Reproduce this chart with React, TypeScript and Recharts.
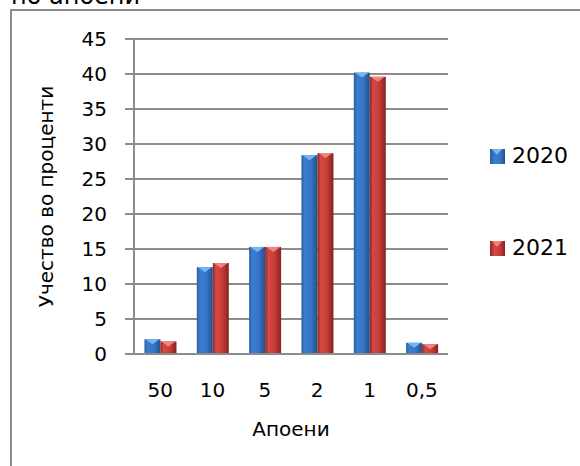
import React from "react"
import { Bar, BarChart, CartesianGrid, Legend, XAxis, YAxis } from "recharts"

const categories = ["50", "10", "5", "2", "1", "0,5"]
const values2020 = [2.1, 12.4, 15.3, 28.4, 40.2, 1.6]
const values2021 = [1.8, 13.0, 15.3, 28.7, 39.6, 1.4]
const yTicks = [0, 5, 10, 15, 20, 25, 30, 35, 40, 45]
const seriesNames = ["2020", "2021"]

const data = categories.map((c, i) => ({ name: c, a: values2020[i], b: values2021[i] }))

const FONT = "'DejaVu Sans', Tahoma, sans-serif"
const GRID = "#8c8c8c"

const palette: Record<string, { grad: string; cap: string }> = {
  a: { grad: "g-blue", cap: "#76b4f2" },
  b: { grad: "g-red", cap: "#f0847a" },
}

function CylBar(props: any) {
  const { x, y, width, height, dataKey } = props
  if (!height || height <= 0) return null
  const p = palette[dataKey] ?? palette.a
  const capH = Math.min(5, height)
  return (
    <g>
      <rect x={x} y={y} width={width} height={height} fill={`url(#${p.grad})`} />
      <polygon
        points={`${x + 1},${y} ${x + width - 1},${y} ${x + width / 2},${y + capH}`}
        fill={p.cap}
      />
    </g>
  )
}

function YLabel(props: any) {
  const vb = props.viewBox ?? {}
  const cx = 46
  const cy = (vb.y ?? 39) + (vb.height ?? 315) / 2
  return (
    <text
      x={cx}
      y={cy}
      transform={`rotate(-90, ${cx}, ${cy})`}
      textAnchor="middle"
      dominantBaseline="central"
      fontSize={20}
      fontFamily={FONT}
      fill="#000"
    >
      Учество во проценти
    </text>
  )
}

function LegendBox() {
  const rows = [
    { label: seriesNames[0], grad: "linear-gradient(90deg,#2b5c9e,#3b7dd0 30%,#3674c5 70%,#24508c)", cap: "#76b4f2" },
    { label: seriesNames[1], grad: "linear-gradient(90deg,#8e2724,#d44a44 30%,#c63c36 70%,#842320)", cap: "#f0847a" },
  ]
  return (
    <div style={{ fontFamily: FONT }}>
      {rows.map((r, i) => (
        <div key={r.label} style={{ display: "flex", alignItems: "center", height: 24, marginBottom: i === 0 ? 68 : 0 }}>
          <div style={{ position: "relative", width: 15, height: 15, background: r.grad, marginRight: 7 }}>
            <div style={{ position: "absolute", left: 2, top: 0, width: 0, height: 0, borderLeft: "5.5px solid transparent", borderRight: "5.5px solid transparent", borderTop: `6px solid ${r.cap}` }} />
          </div>
          <span style={{ fontSize: 22, color: "#000", lineHeight: "24px" }}>{r.label}</span>
        </div>
      ))}
    </div>
  )
}

export default function App() {
  return (
    <div style={{ position: "absolute", left: 0, top: 0, width: 580, height: 466, overflow: "hidden", background: "#fff" }}>
      <div style={{ position: "absolute", left: 11, top: -16, fontSize: 24, lineHeight: "24px", fontFamily: FONT, color: "#000" }}>
        по апоени
      </div>
      <div style={{ position: "absolute", left: 10, top: 9, width: 700, height: 600, border: `2px solid ${GRID}` }} />
      <div style={{ position: "absolute", left: 0, top: 0 }}>
        <BarChart
          width={580}
          height={466}
          data={data}
          margin={{ top: 39, right: 132, bottom: 0, left: 0 }}
          barCategoryGap="20%"
          barGap={0}
        >
          <defs>
            <linearGradient id="g-blue" x1="0" y1="0" x2="1" y2="0">
              <stop offset="0%" stopColor="#2b5c9e" />
              <stop offset="20%" stopColor="#3b7dd0" />
              <stop offset="60%" stopColor="#3674c5" />
              <stop offset="100%" stopColor="#24508c" />
            </linearGradient>
            <linearGradient id="g-red" x1="0" y1="0" x2="1" y2="0">
              <stop offset="0%" stopColor="#8e2724" />
              <stop offset="20%" stopColor="#d44a44" />
              <stop offset="60%" stopColor="#c63c36" />
              <stop offset="100%" stopColor="#842320" />
            </linearGradient>
          </defs>
          <CartesianGrid vertical={false} stroke={GRID} strokeWidth={2} />
          <XAxis
            dataKey="name"
            height={112}
            axisLine={{ stroke: GRID, strokeWidth: 2 }}
            tickLine={false}
            tickMargin={23}
            tick={{ fontSize: 20, fill: "#000", fontFamily: FONT }}
            label={{ value: "Апоени", position: "insideBottom", offset: 30, fontSize: 20, fill: "#000", fontFamily: FONT }}
          />
          <YAxis
            width={134}
            domain={[0, 45]}
            ticks={yTicks}
            interval={0}
            axisLine={{ stroke: GRID, strokeWidth: 2 }}
            tickLine={{ stroke: GRID, strokeWidth: 2 }}
            tickSize={9}
            tickMargin={18}
            tick={{ fontSize: 20, fill: "#000", fontFamily: FONT }}
            label={<YLabel />}
          />
          <Legend
            layout="vertical"
            align="center"
            verticalAlign="middle"
            wrapperStyle={{ left: 490, top: 144, width: 90 }}
            content={<LegendBox />}
          />
          <Bar dataKey="a" name={seriesNames[0]} shape={<CylBar />} isAnimationActive={false} />
          <Bar dataKey="b" name={seriesNames[1]} shape={<CylBar />} isAnimationActive={false} />
        </BarChart>
      </div>
    </div>
  )
}
